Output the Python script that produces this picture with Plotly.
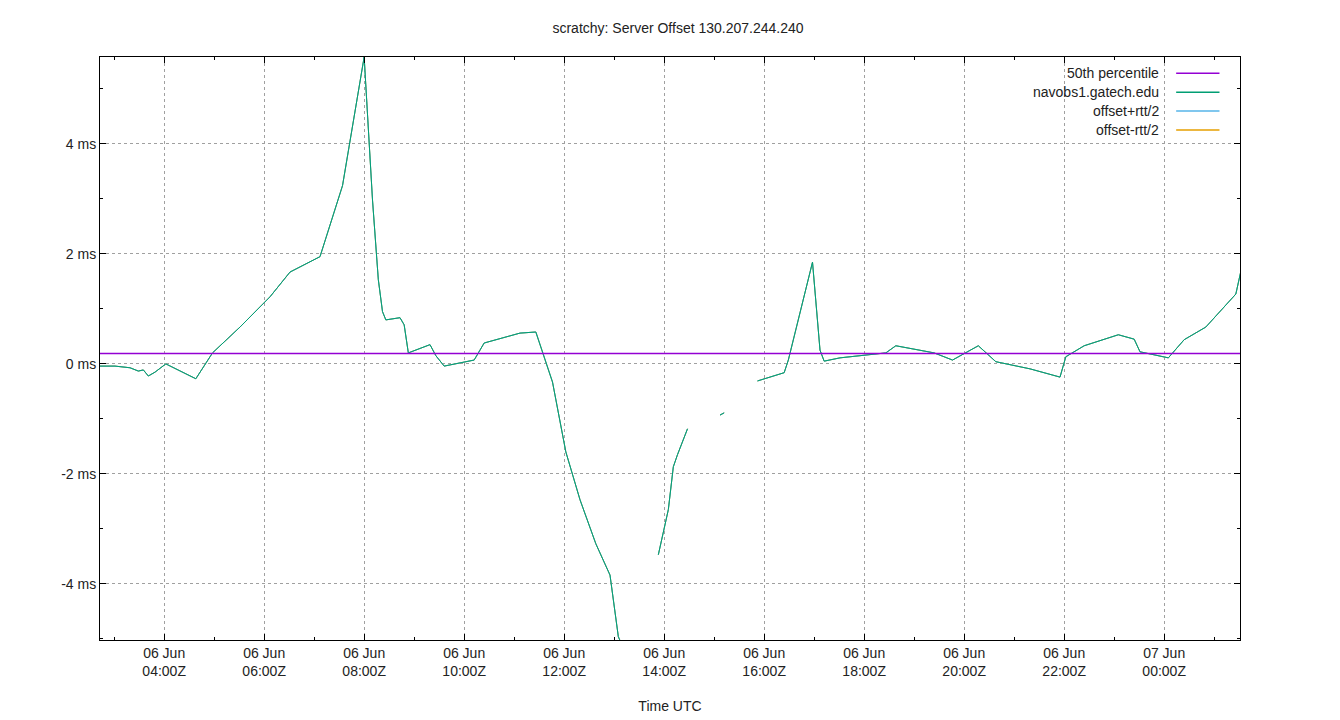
import plotly.graph_objects as go

times = ["2024-06-06 02:43","2024-06-06 03:01","2024-06-06 03:19","2024-06-06 03:29","2024-06-06 03:35",
 "2024-06-06 03:41","2024-06-06 03:49","2024-06-06 04:02","2024-06-06 04:38","2024-06-06 04:58",
 "2024-06-06 05:31","2024-06-06 06:07","2024-06-06 06:31","2024-06-06 07:07","2024-06-06 07:34",
 "2024-06-06 08:00","2024-06-06 08:10","2024-06-06 08:17","2024-06-06 08:22","2024-06-06 08:26",
 "2024-06-06 08:43","2024-06-06 08:48","2024-06-06 08:53","2024-06-06 09:19","2024-06-06 09:26",
 "2024-06-06 09:36","2024-06-06 10:12","2024-06-06 10:24","2024-06-06 11:07","2024-06-06 11:26",
 "2024-06-06 11:46","2024-06-06 12:02","2024-06-06 12:19","2024-06-06 12:38","2024-06-06 12:55",
 "2024-06-06 13:05","2024-06-06 13:12","2024-06-06 13:30",
 "2024-06-06 13:53","2024-06-06 14:05","2024-06-06 14:11","2024-06-06 14:16","2024-06-06 14:28","2024-06-06 14:50",
 "2024-06-06 15:07","2024-06-06 15:12","2024-06-06 15:30",
 "2024-06-06 15:52","2024-06-06 16:07","2024-06-06 16:24","2024-06-06 16:29","2024-06-06 16:58",
 "2024-06-06 17:07","2024-06-06 17:12","2024-06-06 17:31","2024-06-06 18:26","2024-06-06 18:38",
 "2024-06-06 19:24","2024-06-06 19:46","2024-06-06 20:17","2024-06-06 20:38","2024-06-06 21:19",
 "2024-06-06 21:55","2024-06-06 22:02","2024-06-06 22:24","2024-06-06 23:05","2024-06-06 23:24",
 "2024-06-06 23:31","2024-06-07 00:05","2024-06-07 00:24","2024-06-07 00:50","2024-06-07 01:26",
 "2024-06-07 01:34"]
offset_ms = [-0.04,-0.04,-0.07,-0.13,-0.11,-0.22,-0.15,0.0,-0.27,0.2,
 0.67,1.22,1.67,1.95,3.24,5.58,2.98,1.53,0.95,0.8,
 0.84,0.71,0.2,0.35,0.15,-0.04,0.07,0.38,0.56,0.58,
 -0.33,-1.6,-2.47,-3.27,-3.84,-4.96,-5.2,None,
 -3.47,-2.65,-1.87,-1.65,-1.18,None,
 -0.93,-0.89,None,
 -0.31,-0.24,-0.16,0.07,1.85,0.25,0.05,0.11,0.2,0.33,
 0.2,0.07,0.33,0.04,-0.09,-0.24,0.13,0.33,0.53,0.45,
 0.22,0.11,0.44,0.67,1.27,1.82]
median_ms = 0.19
x_range = ["2024-06-06 02:43", "2024-06-07 01:31"]
y_range = [-5.02, 5.58]
tick_vals = ["2024-06-06 04:00","2024-06-06 06:00","2024-06-06 08:00","2024-06-06 10:00","2024-06-06 12:00",
 "2024-06-06 14:00","2024-06-06 16:00","2024-06-06 18:00","2024-06-06 20:00","2024-06-06 22:00","2024-06-07 00:00"]
tick_text = ["06 Jun<br>04:00Z","06 Jun<br>06:00Z","06 Jun<br>08:00Z","06 Jun<br>10:00Z","06 Jun<br>12:00Z",
 "06 Jun<br>14:00Z","06 Jun<br>16:00Z","06 Jun<br>18:00Z","06 Jun<br>20:00Z","06 Jun<br>22:00Z","07 Jun<br>00:00Z"]
y_vals = [-4, -2, 0, 2, 4]
y_text = ["-4 ms", "-2 ms", "0 ms", "2 ms", "4 ms"]
legend_names = ["50th percentile", "navobs1.gatech.edu", "offset+rtt/2", "offset-rtt/2"]
legend_colors = ["#9400d3", "#009e73", "#56b4e9", "#e69f00"]

font = "Liberation Sans, Arial, sans-serif"
fig = go.Figure()
fig.add_trace(go.Scatter(x=times, y=offset_ms, mode="lines", line=dict(color=legend_colors[3], width=1), connectgaps=False))
fig.add_trace(go.Scatter(x=times, y=offset_ms, mode="lines", line=dict(color=legend_colors[2], width=1), connectgaps=False))
fig.add_trace(go.Scatter(x=times, y=offset_ms, mode="lines", line=dict(color=legend_colors[1], width=1), connectgaps=False))
fig.add_trace(go.Scatter(x=x_range, y=[median_ms, median_ms], mode="lines", line=dict(color=legend_colors[0], width=1.5)))

for i, (n, c) in enumerate(zip(legend_names, legend_colors)):
    yp = 0.972 - i * 0.0324
    fig.add_annotation(x=0.931, y=yp, xref="paper", yref="paper", text=n, showarrow=False,
                       xanchor="right", yanchor="middle", font=dict(family=font, size=14, color="#222"))
    fig.add_shape(type="line", xref="paper", yref="paper", x0=0.944, x1=0.982, y0=yp, y1=yp,
                  line=dict(color=c, width=1.5))

axis_common = dict(showline=True, linecolor="black", linewidth=1, mirror="allticks", ticks="inside",
                   tickcolor="black", ticklen=6, showgrid=True, gridcolor="#a0a0a0", griddash="dot",
                   gridwidth=1, zeroline=False, tickfont=dict(family=font, size=14, color="#222"))
fig.update_layout(
    width=1340, height=720, plot_bgcolor="white", paper_bgcolor="white", showlegend=False,
    margin=dict(l=92, r=108, t=49, b=88),
    title=dict(text="scratchy: Server Offset 130.207.244.240", x=0.5, y=0.979, xanchor="center",
               font=dict(family=font, size=14, color="#222")),
    xaxis=dict(range=x_range, tickvals=tick_vals, ticktext=tick_text,
               minor=dict(dtick=3600000, ticks="inside", ticklen=3, tickcolor="black", showgrid=False),
               title=dict(text="Time UTC", font=dict(family=font, size=14, color="#222"), standoff=23),
               **axis_common),
    yaxis=dict(range=y_range, tickvals=y_vals, ticktext=y_text,
               minor=dict(dtick=1, ticks="inside", ticklen=3, tickcolor="black", showgrid=False),
               **axis_common),
)
fig.write_html("out.html")
